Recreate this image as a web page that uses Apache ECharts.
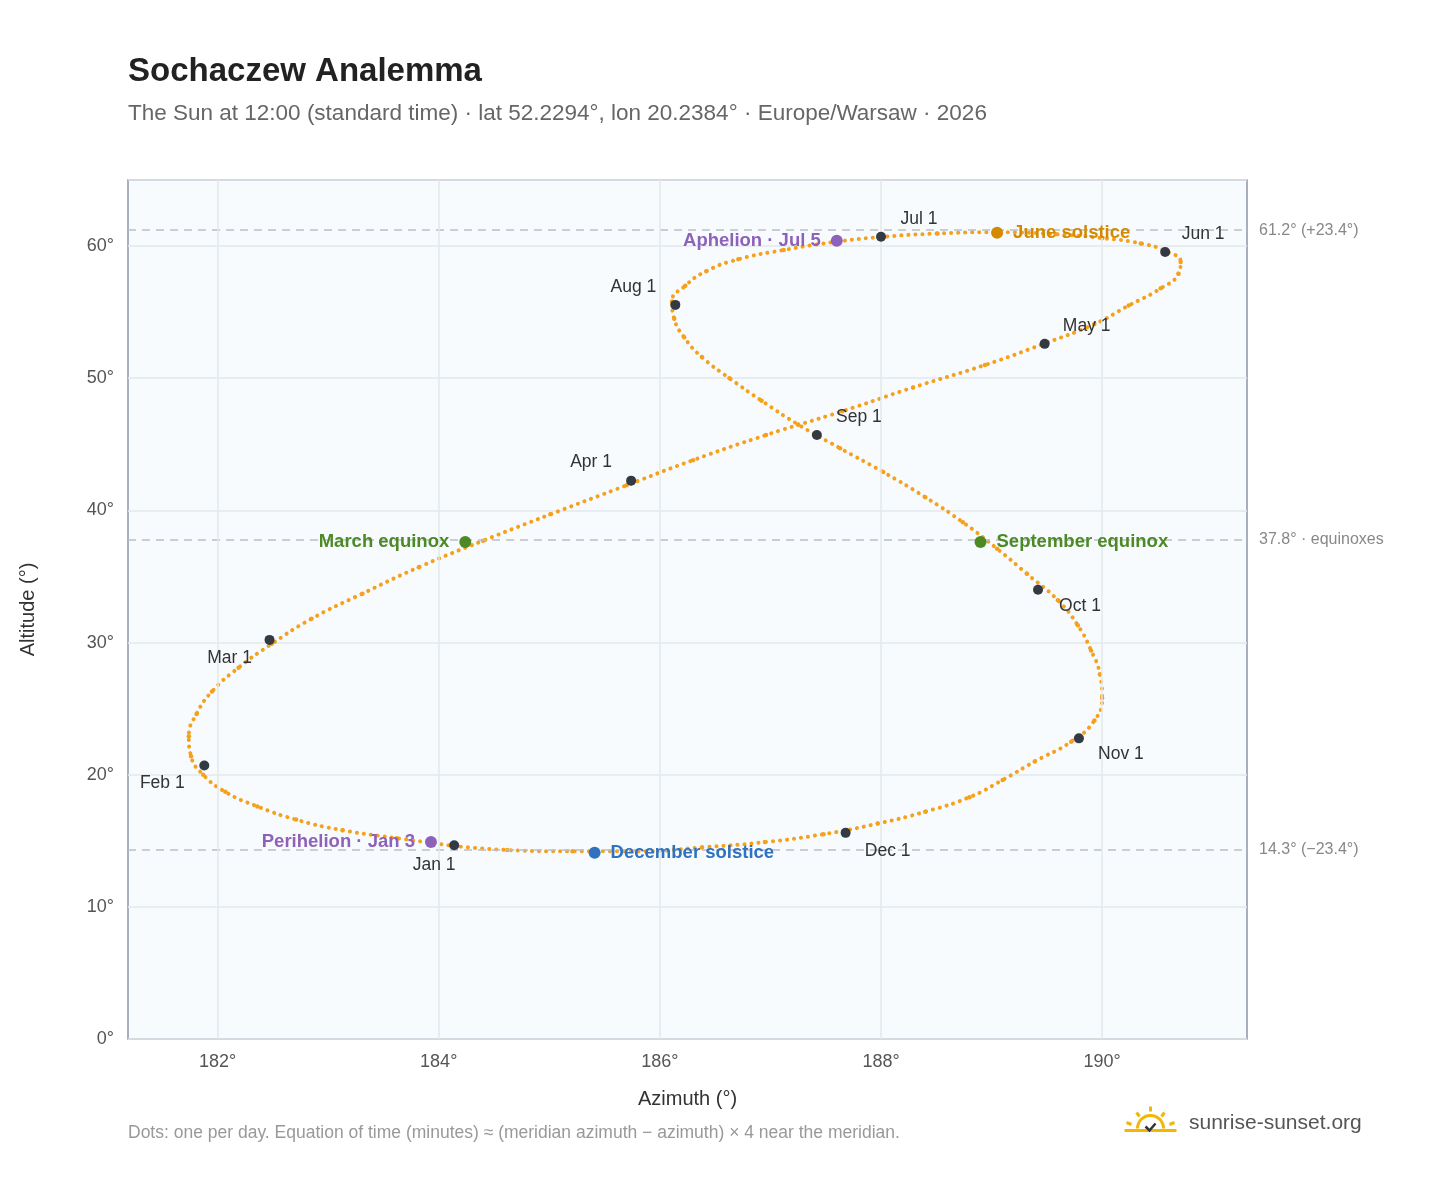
<!DOCTYPE html>
<html><head><meta charset="utf-8">
<script src="https://cdn.jsdelivr.net/npm/echarts@6/dist/echarts.min.js"></script>
<style>html,body{margin:0;padding:0;background:#fff}#c{width:1448px;height:1188px}</style>
</head><body><div id="c"></div>
<script>
// Sun position at 12:00 standard time, sampled ~every 5 days (azimuth °, altitude °)
const azimuth = [184.15,183.62,183.13,182.71,182.36,182.07,181.87,181.76,181.74,181.81,181.95,182.19,182.49,182.85,183.31,183.82,184.40,185.01,185.70,186.30,186.96,187.65,188.29,188.94,189.47,189.93,190.24,190.53,190.69,190.71,190.58,190.35,190.00,189.58,189.04,188.51,188.02,187.57,187.12,186.71,186.42,186.23,186.11,186.13,186.22,186.38,186.63,186.92,187.25,187.63,188.02,188.40,188.74,189.05,189.32,189.60,189.78,189.90,189.98,190.00,189.93,189.72,189.39,189.10,188.80,188.40,187.97,187.48,186.95,186.38,185.79,185.21,184.62,184.15];
const altitude = [14.6,15.2,15.8,16.6,17.6,18.7,20.0,21.4,22.9,24.6,26.3,28.1,29.9,31.8,33.7,35.7,37.7,39.7,41.9,43.8,45.7,47.5,49.3,51.0,52.6,54.1,55.5,56.8,57.9,58.8,59.6,60.2,60.6,60.9,61.05,60.95,60.7,60.3,59.7,59.0,58.1,57.0,55.8,54.5,53.1,51.6,50.0,48.3,46.5,44.7,42.9,41.0,39.1,37.1,35.2,33.2,31.3,29.4,27.6,25.8,24.1,22.5,21.0,19.6,18.3,17.2,16.3,15.5,14.9,14.5,14.2,14.2,14.3,14.6];
const xTicks = [182,184,186,188,190];
const monthNames = ['Jan 1','Feb 1','Mar 1','Apr 1','May 1','Jun 1','Jul 1','Aug 1','Sep 1','Oct 1','Nov 1','Dec 1'];
const monthAz = [184.14,181.88,182.47,185.74,189.48,190.57,188.0,186.14,187.42,189.42,189.79,187.68];
const monthAlt = [14.66,20.7,30.2,42.25,52.6,59.55,60.7,55.55,45.7,34.0,22.75,15.6];
const monthLabelPos = [[-20,20],[-42,18],[-40,18],[-40,-18],[42,-18],[38,-18],[38,-18],[-42,-18],[42,-18],[42,16],[42,16],[42,18]];
const eventNames = ['Perihelion · Jan 3','March equinox','June solstice','Aphelion · Jul 5','September equinox','December solstice'];
const eventAz = [183.93,184.24,189.05,187.6,188.9,185.41];
const eventAlt = [14.9,37.6,61.0,60.4,37.6,14.1];
const eventColors = ['#8e62b8','#4d8a26','#d48a00','#8e62b8','#4d8a26','#2f72bf'];
const eventSide = ['left','left','right','left','right','right'];
const refLines = [61.2,37.8,14.3];
const refLabels = ['61.2° (+23.4°)','37.8° · equinoxes','14.3° (−23.4°)'];

const F='"Helvetica Neue",Helvetica,Arial,"Liberation Sans",sans-serif';
const chart = echarts.init(document.getElementById('c'));
const pts = azimuth.map((a,i)=>[a,altitude[i]]);
chart.setOption({
  backgroundColor:'#fff',
  animation:false,
  title:{text:'Sochaczew Analemma',left:123,top:50,textStyle:{fontFamily:F,fontSize:33,fontWeight:'bold',color:'#222'},
    subtext:'The Sun at 12:00 (standard time) · lat 52.2294°, lon 20.2384° · Europe/Warsaw · 2026',
    subtextStyle:{fontFamily:F,fontSize:22.5,color:'#666'},itemGap:14},
  grid:{left:128,right:201,top:180,bottom:149,show:true,backgroundColor:'#f8fbfe',borderColor:'#8c97a4',borderWidth:1.5},
  xAxis:{type:'value',min:181.19,max:191.31,name:'Azimuth (°)',nameLocation:'middle',nameGap:50,
    nameTextStyle:{fontFamily:F,fontSize:20,color:'#333'},
    axisLabel:{fontFamily:F,fontSize:18,color:'#555',margin:14,formatter:v=>v.toFixed(0)+'°',customValues:xTicks},
    axisTick:{show:false,customValues:xTicks},axisLine:{show:false},splitLine:{show:false}},
  yAxis:{type:'value',min:0,max:65,interval:10,name:'Altitude (°)',nameLocation:'middle',nameGap:90,nameRotate:90,
    nameTextStyle:{fontFamily:F,fontSize:20,color:'#333'},
    axisLabel:{fontFamily:F,fontSize:18,color:'#555',margin:14,formatter:v=>v===65?'':v+'°'},axisTick:{show:false},axisLine:{show:false},
    splitLine:{lineStyle:{color:'#e3e8ee',width:1.5}}},
  series:[
    {type:'line',data:pts,smooth:0.5,showSymbol:false,lineStyle:{color:'#f5a11c',width:4,type:[0.1,7],cap:'round'},
      markLine:{silent:true,symbol:'none',
        data:refLines.map((v,i)=>({yAxis:v,lineStyle:{color:'#b9c0c9',type:[8,6],width:1.5},
          label:{position:'end',distance:12,fontFamily:F,fontSize:16,color:'#888',formatter:refLabels[i]}}))
          .concat(xTicks.map(v=>({xAxis:v,lineStyle:{color:'#e3e8ee',type:'solid',width:1.5},label:{show:false}})))}},
    {type:'scatter',data:pts,symbolSize:4.5,itemStyle:{color:'#f5a11c',opacity:1}},
    {type:'scatter',data:monthAz.map((a,i)=>[a,monthAlt[i]]),symbolSize:10,itemStyle:{color:'#333a44',opacity:1},z:5,
      label:{show:true,fontFamily:F,fontSize:17.5,color:'#333',formatter:p=>monthNames[p.dataIndex]},
      labelLayout:p=>({dx:monthLabelPos[p.dataIndex][0],dy:monthLabelPos[p.dataIndex][1]})},
    {type:'scatter',data:eventAz.map((a,i)=>({value:[a,eventAlt[i]],itemStyle:{color:eventColors[i],opacity:1},
      label:{position:eventSide[i],distance:10,color:eventColors[i]}})),symbolSize:12,z:6,
      label:{show:true,fontFamily:F,fontSize:18.5,fontWeight:'bold',formatter:p=>eventNames[p.dataIndex]}}
  ],
  graphic:[
    {type:'text',left:128,top:1124,style:{text:'Dots: one per day. Equation of time (minutes) ≈ (meridian azimuth − azimuth) × 4 near the meridian.',font:'17.5px '+F,fill:'#999'}},
    {type:'text',left:1189,top:1113,style:{text:'sunrise-sunset.org',font:'21px '+F,fill:'#555'}},
    {type:'group',left:1122,top:1104,children:[
      {type:'arc',shape:{cx:26,cy:24,r:13,startAngle:Math.PI,endAngle:0,clockwise:true},style:{stroke:'#f2b705',lineWidth:3,fill:null}},
      {type:'line',shape:{x1:26,y1:2,x2:26,y2:7},style:{stroke:'#f2b705',lineWidth:3}},
      {type:'line',shape:{x1:12,y1:8,x2:15,y2:12},style:{stroke:'#f2b705',lineWidth:3}},
      {type:'line',shape:{x1:40,y1:8,x2:37,y2:12},style:{stroke:'#f2b705',lineWidth:3}},
      {type:'line',shape:{x1:2,y1:18,x2:7,y2:20},style:{stroke:'#f2b705',lineWidth:3}},
      {type:'line',shape:{x1:50,y1:18,x2:45,y2:20},style:{stroke:'#f2b705',lineWidth:3}},
      {type:'line',shape:{x1:0,y1:26,x2:52,y2:26},style:{stroke:'#f2b705',lineWidth:3}},
      {type:'polyline',shape:{points:[[21,22],[25,26],[31,19]]},style:{stroke:'#333',lineWidth:2.5,fill:null}}
    ]}
  ]
});
</script></body></html>
